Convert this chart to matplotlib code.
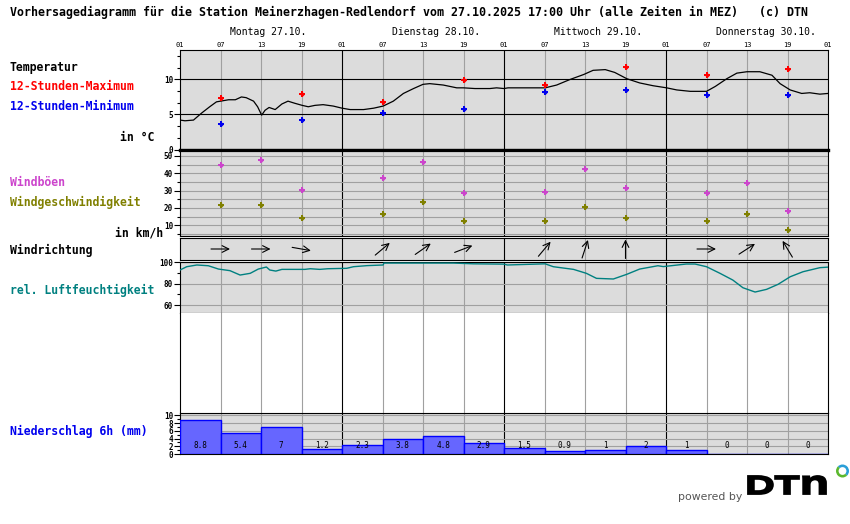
"""
Vorhersagediagramm Meinerzhagen-Redlendorf (DTN style meteogram)
"""
import matplotlib
matplotlib.use("Agg")
import matplotlib.pyplot as plt
import numpy as np
from matplotlib.ticker import MultipleLocator
from matplotlib.textpath import TextPath
from matplotlib.font_manager import FontProperties
from matplotlib.patches import PathPatch, Wedge
from matplotlib.transforms import Affine2D

# ---------------------------------------------------------------- data
# x axis: hours since Monday 27.10. 01:00 MEZ
day_labels = ["Montag 27.10.", "Dienstag 28.10.", "Mittwoch 29.10.",
              "Donnerstag 30.10."]
hour_labels = ["01", "07", "13", "19"] * 4 + ["01"]

temp_hours = [0, 0.74, 2.0, 3.2, 4.4, 5.4, 6.0, 7.2, 8.2, 9.1,
              9.8, 10.9, 11.5, 12.1, 12.6, 13.2, 14.1, 15.1, 16.0, 17.0,
              18.1, 19.0, 20.0, 21.2, 22.7, 24.0, 25.2, 27.2, 28.7, 30.1,
              31.6, 33.1, 34.6, 36.0, 37.0, 39.0, 41.0, 42.0, 43.7, 45.9,
              46.9, 48.0, 48.6, 54.1, 55.8, 57.8, 59.8, 61.2, 63.0, 64.4,
              66.2, 68.1, 70.1, 72.1, 73.6, 75.6, 78.0, 79.3, 81.0, 82.5,
              84.0, 85.9, 87.7, 88.9, 90.4, 92.1, 93.3, 94.8, 96.0]
temp_values = [4.2, 4.1, 4.2, 5.2, 6.1, 6.8, 6.9, 7.1, 7.1, 7.5,
               7.4, 6.9, 6.1, 4.9, 5.6, 6.0, 5.7, 6.5, 6.9, 6.6,
               6.3, 6.1, 6.3, 6.4, 6.2, 5.9, 5.7, 5.7, 5.9, 6.2,
               6.9, 8.0, 8.7, 9.3, 9.4, 9.2, 8.8, 8.8, 8.7, 8.7,
               8.8, 8.7, 8.8, 8.8, 9.2, 10.0, 10.7, 11.3, 11.4, 11.0,
               10.1, 9.5, 9.1, 8.8, 8.5, 8.3, 8.3, 9.0, 10.1, 10.9,
               11.1, 11.1, 10.6, 9.4, 8.5, 8.0, 8.1, 7.9, 8.0]

# 12h extremes at 07 and 19
ext_hours = [6, 18, 30, 42, 54, 66, 78, 90]
temp_max = [7.4, 7.9, 6.8, 9.9, 9.2, 11.8, 10.6, 11.5]
temp_min = [3.7, 4.2, 5.2, 5.8, 8.2, 8.5, 7.8, 7.8]

# wind at 07, 13, 19
wind_hours = [6, 12, 18, 30, 36, 42, 54, 60, 66, 78, 84, 90]
wind_gusts = [44.5, 47.4, 30.1, 37.0, 46.3, 28.4, 29.0, 42.2, 31.3, 28.4,
              34.2, 18.0]
wind_speed = [21.5, 21.5, 14.0, 16.3, 23.2, 12.2, 12.2, 20.3, 14.0, 12.2,
              16.3, 7.0]
wind_from = [270, 270, 280, 230, 235, 249, 220, 198, 180, 270, 237, 149]

hum_hours = [0, 1.0, 2.5, 4.2, 5.7, 7.4, 8.9, 10.4, 11.6, 12.8,
             13.3, 14.2, 15.1, 18.5, 19.3, 20.7, 21.9, 24.7, 25.7, 27.7,
             30.1, 30.2, 40.5, 43.5, 48.0, 48.5, 54.1, 55.3, 58.3, 60.2,
             61.7, 64.2, 66.2, 68.1, 70.8, 71.6, 75.0, 76.3, 78.0, 80.0,
             81.9, 83.4, 85.2, 86.9, 88.6, 90.4, 92.3, 94.8, 96.0]
hum_values = [92.8, 95.9, 97.5, 96.8, 93.7, 92.2, 88.1, 89.7, 93.7, 95.6,
              92.8, 91.8, 93.4, 93.4, 94.0, 93.4, 94.0, 94.4, 95.9, 96.9,
              97.5, 99.3, 99.3, 98.6, 98.3, 97.5, 98.6, 95.9, 93.4, 89.7,
              85.0, 84.4, 88.8, 93.7, 96.8, 96.0, 98.4, 98.4, 95.9, 89.7,
              83.4, 76.2, 72.2, 74.7, 79.4, 86.5, 91.2, 95.0, 95.5]

# 6h precipitation, intervals starting at these hours
precip_start = [0, 6, 12, 18, 24, 30, 36, 42, 48, 54, 60, 66, 72, 78, 84, 90]
precip = [8.8, 5.4, 7, 1.2, 2.3, 3.8, 4.8, 2.9, 1.5, 0.9, 1, 2, 1, 0, 0, 0]

# ---------------------------------------------------------------- layout
W, H = 850, 524
X0, X1 = 180, 828
PANEL = "#dcdcdc"
GRID = "#a0a0a0"
MONO = "DejaVu Sans Mono"

plt.rcParams["font.family"] = MONO
fig = plt.figure(figsize=(W / 100, H / 100), dpi=100)


def add_panel(top, bottom, color=PANEL):
    """axes between two pixel rows, with the 6-hourly vertical grid"""
    ax = fig.add_axes([X0 / W, 1 - bottom / H, (X1 - X0) / W,
                       (bottom - top) / H])
    ax.set_facecolor(color)
    ax.set_xlim(0, 96)
    ax.set_xticks([])
    for h in range(6, 96, 6):
        ax.axvline(h, color="black" if h % 24 == 0 else GRID, lw=0.8,
                   zorder=1)
    for s in ax.spines.values():
        s.set_linewidth(0.8)
    ax.tick_params(axis="y", which="major", labelsize=5.5, length=4,
                   width=0.8, pad=1)
    ax.tick_params(axis="y", which="minor", length=2.5, width=0.8)
    return ax


def fig_text(x, y, s, **kw):
    fig.text(x / W, 1 - y / H, s, va="center", family=MONO, **kw)


def dots(ax, x, y, color):
    # small solid "plus" marks like the original bitmap
    ax.plot(x, y, marker="P", ls="none", ms=5, mew=0, color=color, zorder=4)
    ax.plot(x, y, marker="D", ls="none", ms=2.6, mew=0, color=color,
            zorder=4)


# temperature
ax_t = add_panel(50, 150)
ax_t.set_ylim(-0.07, 14.2)
ax_t.set_yticks([0, 5, 10])
ax_t.yaxis.set_minor_locator(MultipleLocator(5 / 3))
for v in (5, 10):
    ax_t.axhline(v, color="black", lw=0.8, zorder=1)
ax_t.spines["bottom"].set_linewidth(2.3)
ax_t.plot(temp_hours, temp_values, color="black", lw=0.9, zorder=3)
dots(ax_t, ext_hours, temp_max, "red")
dots(ax_t, ext_hours, temp_min, "#0000ee")
ax_t.set_xticks(range(0, 97, 6))
ax_t.set_xticklabels(hour_labels)
ax_t.tick_params(axis="x", top=True, bottom=False, labeltop=True,
                 labelbottom=False, length=0, labelsize=5, pad=1.5)
for i, name in enumerate(day_labels):
    ax_t.annotate(name, xy=(24 * i, 1), xycoords=("data", "axes fraction"),
                  xytext=(36, 13), textcoords="offset points", fontsize=7,
                  va="center", ha="left")

# wind speed / gusts
ax_w = add_panel(150, 235.5)
ax_w.set_ylim(4.04, 53.4)
ax_w.set_yticks([10, 20, 30, 40, 50])
ax_w.yaxis.set_minor_locator(MultipleLocator(5))
for v in range(5, 55, 5):
    ax_w.axhline(v, color=GRID, lw=0.8, zorder=1)
ax_w.spines["top"].set_linewidth(2.3)
dots(ax_w, wind_hours, wind_gusts, "#cc44cc")
dots(ax_w, wind_hours, wind_speed, "#808000")

# wind direction arrows (pointing where the wind blows to)
ax_d = add_panel(238, 260)
ax_d.set_ylim(0, 1)
ax_d.set_yticks([])
for h, d in zip(wind_hours, wind_from):
    a = np.radians(270 - d)
    dx = 9.5 * np.cos(a) / 6.75
    dy = 9.5 * np.sin(a) / 22
    ax_d.annotate("", xy=(h + dx, 0.5 + dy), xytext=(h - dx, 0.5 - dy),
                  arrowprops=dict(arrowstyle="->", color="black", lw=0.8,
                                  shrinkA=0, shrinkB=0, mutation_scale=12),
                  zorder=4)

# relative humidity
ax_h = add_panel(262, 313.3)
ax_h.set_ylim(52.3, 100.3)
ax_h.set_yticks([60, 80, 100])
ax_h.yaxis.set_minor_locator(MultipleLocator(10))
for v in (60, 80):
    ax_h.axhline(v, color=GRID, lw=0.8, zorder=1)
ax_h.axhline(100, color="black", lw=0.8, zorder=1)
ax_h.plot(hum_hours, hum_values, color="#008080", lw=1, zorder=3)

# empty white gap with the vertical grid
ax_gap = add_panel(313.3, 413.3, color="white")
ax_gap.set_yticks([])
ax_gap.spines["top"].set_visible(False)
ax_gap.spines["bottom"].set_visible(False)

# precipitation
ax_p = add_panel(413.3, 454)
ax_p.set_ylim(0, 10.57)
ax_p.set_yticks(range(0, 11, 2))
ax_p.yaxis.set_minor_locator(MultipleLocator(1))
for v in range(2, 11, 2):
    ax_p.axhline(v, color=GRID, lw=0.8, zorder=1)
ax_p.bar(precip_start, precip, width=6, align="edge", color="#6666ff",
         edgecolor="#0000ff", lw=1, zorder=3)
for s, v in zip(precip_start, precip):
    ax_p.text(s + 3, 2.3, "%g" % v, ha="center", va="center", fontsize=5.5,
              zorder=5)
for ax in (ax_t, ax_w, ax_h, ax_p):
    for lab in ax.get_yticklabels():
        lab.set_fontweight("bold")

# ---------------------------------------------------------------- texts
fig_text(10, 12, "Vorhersagediagramm für die Station Meinerzhagen-Redlendorf "
         "vom 27.10.2025 17:00 Uhr (alle Zeiten in MEZ)   (c) DTN",
         fontsize=8.4, fontweight="bold")
bold = dict(fontsize=8.3, fontweight="bold")
fig_text(10, 67, "Temperatur", color="black", **bold)
fig_text(10, 87, "12-Stunden-Maximum", color="red", **bold)
fig_text(10, 107, "12-Stunden-Minimum", color="#0000ee", **bold)
fig_text(154, 137, "in °C", ha="right", color="black", **bold)
fig_text(10, 182, "Windböen", color="#cc44cc", **bold)
fig_text(10, 202, "Windgeschwindigkeit", color="#808000", **bold)
fig_text(163, 233, "in km/h", ha="right", color="black", **bold)
fig_text(10, 250, "Windrichtung", color="black", **bold)
fig_text(10, 290, "rel. Luftfeuchtigkeit", color="#008080", **bold)
fig_text(10, 431, "Niederschlag 6h (mm)", color="#0000ee", **bold)

# ---------------------------------------------------------------- logo
ax_bg = fig.add_axes([0, 0, 1, 1], facecolor="none")
ax_bg.set_xlim(0, W)
ax_bg.set_ylim(H, 0)
ax_bg.axis("off")
ax_bg.text(678, 497, "powered by", fontsize=7.8, color="#555555",
           family="DejaVu Sans", va="center", ha="left")

logo_font = FontProperties(family="Liberation Sans", weight="bold")


def logo_letters(s, x0, x1, top, bottom):
    tp = TextPath((0, 0), s, size=1, prop=logo_font)
    ext = tp.get_extents()
    tr = Affine2D().translate(-ext.x0, -ext.y0) \
        .scale((x1 - x0) / ext.width, -(bottom - top) / ext.height) \
        .translate(x0, bottom)
    ax_bg.add_patch(PathPatch(tr.transform_path(tp), fc="black",
                              ec="black", lw=1.3, joinstyle="miter"))


logo_letters("DT", 748, 799, 476, 494)
logo_letters("n", 803, 826, 476, 494)
ax_bg.add_patch(Wedge((842.5, 471), 6.5, -135, 45, width=2.6, fc="#2a9fd8",
                      lw=0))
ax_bg.add_patch(Wedge((842.5, 471), 6.5, 45, 225, width=2.6, fc="#5cb82e",
                      lw=0))

fig.savefig("out.png", dpi=100)
